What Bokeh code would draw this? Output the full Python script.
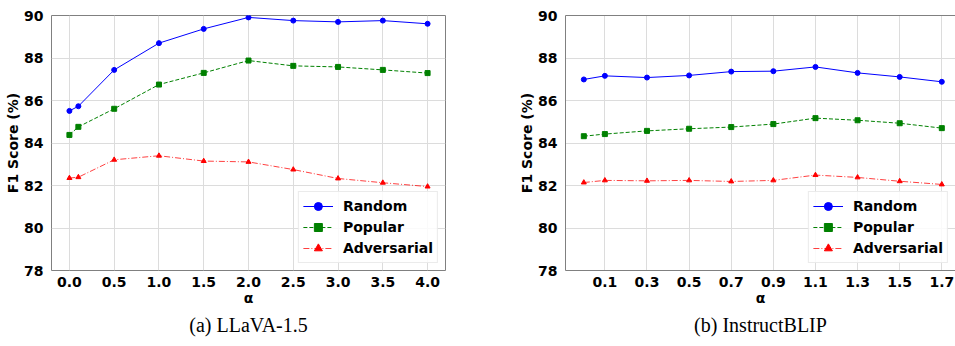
from bokeh.plotting import figure
from bokeh.layouts import row
from bokeh.models import (FixedTicker, Title, LinearAxis, Legend, CustomJSTickFormatter)
from bokeh.embed import file_html
from bokeh.resources import INLINE

# ---------------- data ----------------
alpha_llava = [0.0, 0.1, 0.5, 1.0, 1.5, 2.0, 2.5, 3.0, 3.5, 4.0]
llava_random = [85.51, 85.73, 87.44, 88.70, 89.37, 89.91, 89.76, 89.70, 89.76, 89.61]
llava_popular = [84.38, 84.76, 85.61, 86.75, 87.30, 87.88, 87.63, 87.58, 87.44, 87.29]
llava_adversarial = [82.35, 82.39, 83.21, 83.40, 83.15, 83.11, 82.75, 82.33, 82.13, 81.95]

alpha_iblip = [0.0, 0.1, 0.3, 0.5, 0.7, 0.9, 1.1, 1.3, 1.5, 1.7]
iblip_random = [86.99, 87.16, 87.08, 87.18, 87.36, 87.38, 87.58, 87.30, 87.11, 86.88]
iblip_popular = [84.32, 84.42, 84.57, 84.67, 84.75, 84.89, 85.17, 85.07, 84.93, 84.70]
iblip_adversarial = [82.14, 82.24, 82.22, 82.24, 82.19, 82.24, 82.49, 82.38, 82.20, 82.05]

llava_xticks = [0.0, 0.5, 1.0, 1.5, 2.0, 2.5, 3.0, 3.5, 4.0]
iblip_xticks = [0.1, 0.3, 0.5, 0.7, 0.9, 1.1, 1.3, 1.5, 1.7]
yticks = [78, 80, 82, 84, 86, 88, 90]

series_names = ["Random", "Popular", "Adversarial"]
captions = ["(a) LLaVA-1.5", "(b) InstructBLIP"]

FONT = "DejaVu Sans"
SPINE = "#808080"
GRID = "#dcdcdc"


def make_fig(xs, ys_list, xticks, x_range, width, border_left, border_right, caption, full_outline):
    p = figure(width=width, height=346, x_range=x_range, y_range=(78, 90),
               output_backend="svg", toolbar_location=None, title=None,
               min_border_left=border_left, min_border_right=border_right,
               min_border_top=15, min_border_bottom=76)
    p.background_fill_color = "white"
    p.border_fill_color = "white"
    p.outline_line_color = SPINE if full_outline else None
    p.outline_line_width = 1

    xax = p.below[0]
    yax = p.left[0]
    xax.ticker = FixedTicker(ticks=xticks)
    yax.ticker = FixedTicker(ticks=yticks)
    xax.formatter = CustomJSTickFormatter(code="return tick.toFixed(1);")
    for ax in (xax, yax):
        ax.major_tick_line_color = None
        ax.minor_tick_line_color = None
        ax.axis_line_color = None if full_outline else SPINE
        ax.major_label_text_font = FONT
        ax.major_label_text_font_style = "bold"
        ax.major_label_text_font_size = "14px"
        ax.major_label_text_color = "black"
        ax.axis_label_text_font = FONT
        ax.axis_label_text_font_style = "bold"
        ax.axis_label_text_font_size = "14px"
        ax.axis_label_text_color = "black"
    xax.major_label_standoff = 0
    yax.major_label_standoff = 2
    xax.axis_label = "α"
    yax.axis_label = "F1 Score (%)"
    xax.axis_label_standoff = 0
    yax.axis_label_standoff = 0

    p.xgrid.ticker = FixedTicker(ticks=xticks)
    p.ygrid.ticker = FixedTicker(ticks=yticks)
    p.grid.grid_line_color = GRID
    p.grid.grid_line_width = 1

    if not full_outline:
        top = LinearAxis(ticker=FixedTicker(ticks=[]), axis_line_color=SPINE,
                         major_tick_line_color=None, minor_tick_line_color=None,
                         major_label_text_font_size="0px", major_label_standoff=0)
        p.add_layout(top, "above")

    ry, py, ay = ys_list
    r1 = p.line(xs, ry, line_color="#0000ff", line_width=1)
    m1 = p.scatter(xs, ry, marker="circle", size=5, fill_color="#0000ff", line_color="#0000ff")
    r2 = p.line(xs, py, line_color="#008000", line_width=1, line_dash="4 2")
    m2 = p.scatter(xs, py, marker="square", size=5, fill_color="#008000", line_color="#008000")
    r3 = p.line(xs, ay, line_color="#ff0000", line_width=1, line_dash="6 2 1 2", line_alpha=0.75)
    m3 = p.scatter(xs, ay, marker="triangle", size=5, fill_color="#ff0000", line_color="#ff0000")
    items = [(series_names[0], [r1, m1]), (series_names[1], [r2, m2]), (series_names[2], [r3, m3])]
    leg = Legend(items=items, location="bottom_right")
    leg.label_text_font = FONT
    leg.label_text_font_style = "bold"
    leg.label_text_font_size = "14px"
    leg.label_text_color = "black"
    leg.glyph_width = 30
    leg.glyph_height = 20
    leg.label_height = 20
    leg.label_standoff = 10
    leg.spacing = 1
    leg.padding = 4
    leg.margin = 7
    leg.border_line_color = "#d8d8d8"
    leg.border_line_width = 1
    leg.background_fill_color = "white"
    leg.background_fill_alpha = 0.85
    p.add_layout(leg, "center")

    cap = Title(text=caption, align="center", text_font="Liberation Serif",
                text_font_size="20px", text_font_style="normal", text_color="black",
                standoff=6)
    p.add_layout(cap, "below")
    return p


p1 = make_fig(alpha_llava, [llava_random, llava_popular, llava_adversarial], llava_xticks,
              (-0.2, 4.2), 480, 51, 35, captions[0], True)
p2 = make_fig(alpha_iblip, [iblip_random, iblip_popular, iblip_adversarial], iblip_xticks,
              (-0.087, 1.765), 475, 85, 0, captions[1], False)

layout = row(p1, p2)
open("out.html", "w").write(file_html(layout, INLINE))
